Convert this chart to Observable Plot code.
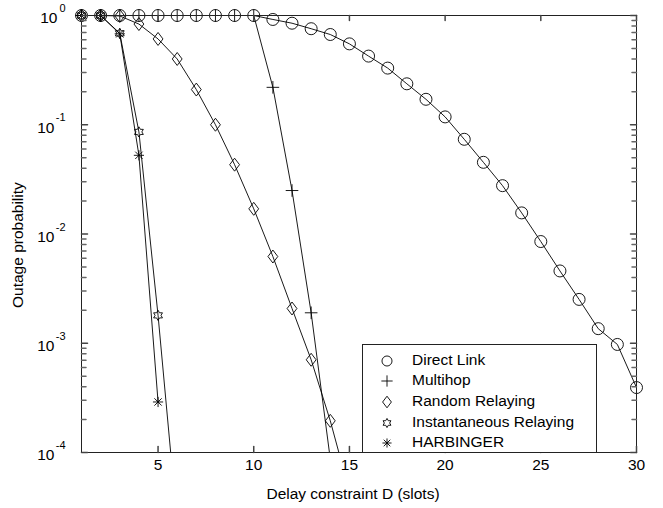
<!DOCTYPE html>
<html>
<head>
<meta charset="utf-8">
<script src="https://cdn.jsdelivr.net/npm/d3@7"></script>
<script src="https://cdn.jsdelivr.net/npm/@observablehq/plot@0.6"></script>
<style>
  body { margin: 0; background: #fff; }
  #wrap { position: relative; width: 663px; height: 508px; font-family: "Liberation Sans", Arial, sans-serif; }
  #legend { position: absolute; left: 362px; top: 344px; width: 235px; height: 109px; box-sizing: border-box;
            border: 1px solid #222; background: #fff; }
  .row { position: absolute; left: 0; height: 20px; width: 100%; }
  .row svg { position: absolute; left: 16px; top: 2px; }
  .row span { position: absolute; left: 49px; top: 0px; font-size: 15.5px; line-height: 18px; color: #000; white-space: nowrap; }
</style>
</head>
<body>
<div id="wrap"></div>
<script>
// ---------- data ----------
const seriesNames = ["Direct Link", "Multihop", "Random Relaying", "Instantaneous Relaying", "HARBINGER"];

const delayDirect = [1,2,3,4,5,6,7,8,9,10,11,12,13,14,15,16,17,18,19,20,21,22,23,24,25,26,27,28,29,30];
const directLink = [1,1,1,1,1,1,1,1,1,1,
  0.92,0.85,0.757,0.67,0.55,0.425,0.33,0.237,0.171,0.118,
  0.0736,0.0453,0.0277,0.0156,0.00853,0.00459,0.00252,0.00136,0.000975,0.000393];

const delayMultihop = [1,2,3,4,5,6,7,8,9,10,11,12,13,14];
const multihop = [1,1,1,1,1,1,1,1,1,1,0.22,0.025,0.0019,0.000087];

const delayRandom = [1,2,3,4,5,6,7,8,9,10,11,12,13,14,15];
const randomRelaying = [1,1,0.99,0.835,0.61,0.40,0.21,0.1,0.0431,0.017,0.00622,0.00208,0.000706,0.000195,0.000044];

const delayInst = [1,2,3,4,5,6];
const instantaneous = [1,1,0.687,0.086,0.0018,0.0000225];

const delayHarb = [1,2,3,4,5];
const harbinger = [1,1,0.68,0.0525,0.00029];

const xTicks = [5,10,15,20,25,30];
const yMajor = [1,0.1,0.01,0.001,0.0001];
const yExponents = ["0","-1","-2","-3","-4"];

// ---------- marker shapes ----------
const rad = s => Math.sqrt(s / Math.PI);
const symCircle = { draw(c, s) { const r = rad(s); c.moveTo(r, 0); c.arc(0, 0, r, 0, 2 * Math.PI); } };
const symPlus = { draw(c, s) { const r = rad(s) * 1.05; c.moveTo(-r, 0); c.lineTo(r, 0); c.moveTo(0, -r); c.lineTo(0, r); } };
const symDiamond = { draw(c, s) { const r = rad(s); c.moveTo(0, -r * 1.08); c.lineTo(r * 0.82, 0); c.lineTo(0, r * 1.08); c.lineTo(-r * 0.82, 0); c.closePath(); } };
const symHexagram = { draw(c, s) {
  const R = rad(s) * 0.85, ri = R / Math.sqrt(3);
  for (let k = 0; k < 12; k++) {
    const a = -Math.PI / 2 + k * Math.PI / 6, rr = k % 2 ? ri : R;
    const px = rr * Math.cos(a), py = rr * Math.sin(a);
    if (k === 0) c.moveTo(px, py); else c.lineTo(px, py);
  }
  c.closePath();
} };
const symAsterisk = { draw(c, s) {
  const r = rad(s) * 0.85, d = r * 0.72;
  c.moveTo(-r, 0); c.lineTo(r, 0); c.moveTo(0, -r); c.lineTo(0, r);
  c.moveTo(-d, -d); c.lineTo(d, d); c.moveTo(-d, d); c.lineTo(d, -d);
} };
const symbolsList = [symCircle, symPlus, symDiamond, symHexagram, symAsterisk];

// ---------- table ----------
const parts = [
  [delayDirect, directLink],
  [delayMultihop, multihop],
  [delayRandom, randomRelaying],
  [delayInst, instantaneous],
  [delayHarb, harbinger]
];
const rows = [];
parts.forEach(([xs, ys], k) => xs.forEach((x, i) => rows.push({series: seriesNames[k], idx: k, x, y: ys[i]})));

const tickShape = { draw(c, l) { c.moveTo(0, 0); c.lineTo(0, -l); } };
const yMinor = d3.scaleLog().domain([1e-4, 1]).ticks().filter(v => !yMajor.some(m => Math.abs(m - v) < 1e-12));

const marks = [
  Plot.line(rows, {x: "x", y: "y", z: "series", stroke: "#000", strokeWidth: 0.9, clip: true}),
];
symbolsList.forEach((sym, k) => {
  marks.push(Plot.dot(rows.filter(d => d.idx === k && d.y >= 1e-4), {x: "x", y: "y", r: 6, symbol: sym, fill: "none", stroke: "#000", strokeWidth: 0.9}));
});
marks.push(
  Plot.frame({stroke: "#222", strokeWidth: 1}),
  // x ticks bottom & top (inward)
  Plot.vector(xTicks, {x: d => d, frameAnchor: "bottom", length: 6, rotate: 0, anchor: "start", shape: tickShape, stroke: "#444"}),
  Plot.vector(xTicks, {x: d => d, frameAnchor: "top", length: 5, rotate: 180, anchor: "start", shape: tickShape, stroke: "#444"}),
  // y ticks left & right (inward)
  Plot.vector(yMajor, {y: d => d, frameAnchor: "left", length: 6, rotate: 90, anchor: "start", shape: tickShape, stroke: "#444"}),
  Plot.vector(yMinor, {y: d => d, frameAnchor: "left", length: 4.5, rotate: 90, anchor: "start", shape: tickShape, stroke: "#666"}),
  Plot.vector(yMajor, {y: d => d, frameAnchor: "right", length: 6, rotate: 270, anchor: "start", shape: tickShape, stroke: "#444"}),
  Plot.vector(yMinor, {y: d => d, frameAnchor: "right", length: 4.5, rotate: 270, anchor: "start", shape: tickShape, stroke: "#666"}),
  // tick labels
  Plot.text(xTicks, {x: d => d, frameAnchor: "bottom", dy: 17, text: d => String(d), fontSize: 15.5, fill: "#000"}),
  Plot.text(yMajor.filter((d, i) => i === 0), {y: d => d, frameAnchor: "left", text: () => "10", textAnchor: "end", dx: -24, dy: 3, fontSize: 15.5, fill: "#000"}),
  Plot.text(yMajor.filter((d, i) => i > 0), {y: d => d, frameAnchor: "left", text: () => "10", textAnchor: "end", dx: -27, dy: 3, fontSize: 15.5, fill: "#000"}),
  Plot.text(yMajor, {y: d => d, frameAnchor: "left", text: (d, i) => yExponents[i], textAnchor: "end", dx: -16, dy: -7, fontSize: 11, fill: "#000"}),
  // axis labels
  Plot.text(["Outage probability"], {frameAnchor: "left", text: d => d, rotate: -90, dx: -63, dy: 74, fontSize: 15.5, fill: "#000"}),
  Plot.text(["Delay constraint D (slots)"], {frameAnchor: "bottom", text: d => d, dx: -6, dy: 46, fontSize: 15.5, fill: "#000"})
);

const chart = Plot.plot({
  width: 663,
  height: 508,
  marginLeft: 81,
  marginRight: 27,
  marginTop: 15,
  marginBottom: 56,
  style: {fontFamily: "'Liberation Sans', Arial, sans-serif", fontSize: "15px", background: "#fff", color: "#000", overflow: "visible"},
  x: {domain: [1, 30], axis: null},
  y: {type: "log", domain: [1e-4, 1], axis: null},
  marks
});
const wrap = document.getElementById("wrap");
wrap.appendChild(chart);

// ---------- legend (inside the axes box) ----------
const legend = document.createElement("div");
legend.id = "legend";
const rowTops = [6, 26, 46.5, 68, 88];
seriesNames.forEach((name, k) => {
  const row = document.createElement("div");
  row.className = "row";
  row.style.top = rowTops[k] + "px";
  const p = d3.path();
  symbolsList[k].draw(p, 36 * Math.PI * (k === 0 ? 0.7 : 0.8));
  row.innerHTML = `<svg width="16" height="16" viewBox="-8 -8 16 16"><path d="${p.toString()}" fill="none" stroke="#000" stroke-width="0.9"/></svg><span>${name}</span>`;
  legend.appendChild(row);
});
wrap.appendChild(legend);
</script>
</body>
</html>
